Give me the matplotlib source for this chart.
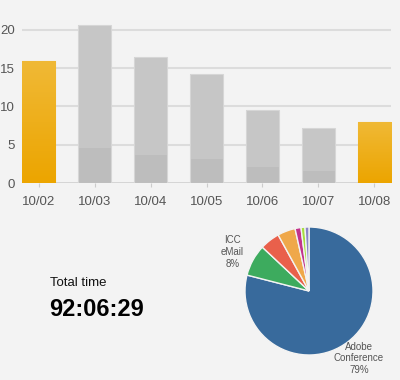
import matplotlib
matplotlib.use("Agg")
import matplotlib.pyplot as plt
import numpy as np
from matplotlib.colors import LinearSegmentedColormap

# ---- data ----
dates = ["10/02", "10/03", "10/04", "10/05", "10/06", "10/07", "10/08"]
totals = [16.0, 20.6, 16.5, 14.2, 9.6, 7.25, 8.0]
lower_part = [0, 4.6, 3.7, 3.1, 2.1, 1.6, 0]
highlight = [True, False, False, False, False, False, True]
y_ticks = [0, 5, 10, 15, 20]

pie_labels = ["Adobe Conference", "ICC eMail", "Other A", "Other B", "Other C", "Other D", "Other E"]
pie_values = [79, 8, 5, 4.5, 1.5, 1, 1]
pie_colors = ["#386a9c", "#3dab5e", "#e9604b", "#efa84a", "#c2338c", "#a6de3e", "#8a86c6"]

total_label = "Total time"
total_value = "92:06:29"

BG = "#f3f3f3"
TXT = "#555555"

fig = plt.figure(figsize=(4.0, 3.8), dpi=100, facecolor=BG)

# ---- bar chart ----
ax = fig.add_axes([22/400, 197/380, 369/400, 164.5/380])
ax.set_facecolor(BG)
x = np.arange(len(dates))
w = 0.59
for i in range(len(dates)):
    if highlight[i]:
        b = ax.bar(x[i], totals[i], width=w, color="#eeac1a", edgecolor="#f3c458",
                   linewidth=0.8, zorder=3)[0]
        cmap = LinearSegmentedColormap.from_list("o", ["#eca500", "#f0b936"])
        grad = np.linspace(0, 1, 50).reshape(-1, 1)
        im = ax.imshow(grad, extent=[b.get_x(), b.get_x() + b.get_width(), 0, b.get_height()],
                       origin="lower", aspect="auto", cmap=cmap, zorder=3.5)
        im.set_clip_path(b)
    else:
        ax.bar(x[i], lower_part[i], width=w, color="#bdbdbd", edgecolor="none", zorder=3)
        ax.bar(x[i], totals[i] - lower_part[i], bottom=lower_part[i], width=w,
               color="#c6c6c6", edgecolor="none", zorder=3)
        ax.bar(x[i], totals[i], width=w, facecolor="none", edgecolor="#d6d6d6",
               linewidth=0.8, zorder=4)

ax.set_xlim(-0.295, 6.295)
ax.set_ylim(0, 21.5)
ax.set_yticks(y_ticks)
ax.set_xticks(x)
ax.set_xticklabels(dates)
for s in ax.spines.values():
    s.set_visible(False)
ax.axhline(0, color="#d0d0d0", lw=1.2, zorder=2)
for yv in y_ticks[1:]:
    ax.axhline(yv, color="#dcdcdc", lw=1.5, zorder=1)
ax.tick_params(axis="y", length=0, pad=5, labelsize=9.5, labelcolor=TXT)
ax.tick_params(axis="x", length=3, color="#cccccc", pad=6, labelsize=9.5, labelcolor=TXT)
for t in ax.get_xticklabels() + ax.get_yticklabels():
    t.set_fontfamily("Liberation Sans")

# ---- total time ----
fig.text(50/400, 1 - 283/380, total_label, fontsize=9.5, color="#111111",
         family="Liberation Sans", va="center", ha="left")
fig.text(49/400, 1 - 310/380, total_value, fontsize=17, fontweight="bold", color="#000000",
         family="Liberation Sans", va="center", ha="left")

# ---- pie ----
pax = fig.add_axes([245/400, 25/380, 128/400, 128/380])
pax.set_facecolor(BG)
pax.pie(pie_values, colors=pie_colors, startangle=90, counterclock=False,
        wedgeprops=dict(edgecolor="#f3f3f3", linewidth=1.0), radius=1.0)
pax.set_xlim(-1, 1)
pax.set_ylim(-1, 1)
pax.set_aspect("equal")
pax.axis("off")
pax.text(-1.2, 0.61, "ICC\neMail\n%d%%" % pie_values[1], ha="center", va="center",
         fontsize=7, color=TXT, family="Liberation Sans", linespacing=1.2, clip_on=False)
pax.text(0.78, -1.05, "Adobe\nConference\n%d%%" % pie_values[0], ha="center", va="center",
         fontsize=7, color=TXT, family="Liberation Sans", linespacing=1.2, clip_on=False)

fig.savefig("out.png", dpi=100, facecolor=BG)
